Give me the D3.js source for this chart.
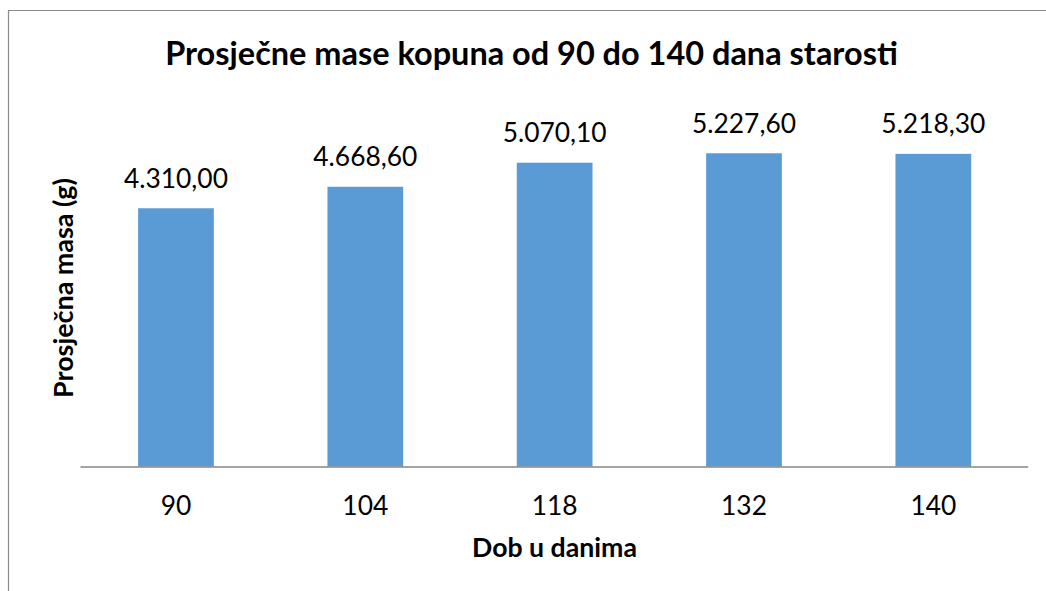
<!DOCTYPE html>
<html>
<head>
<meta charset="utf-8">
<title>Prosječne mase kopuna</title>
<script src="https://d3js.org/d3.v7.min.js"></script>
<style>
body { margin: 0; background: #fff; }
text { font-family: Lato, "Noto Sans", sans-serif; fill: #000; }
</style>
</head>
<body>
<div class="chart"></div>
<script>
// data
var days = ["90", "104", "118", "132", "140"];
var mass = [4310.00, 4668.60, 5070.10, 5227.60, 5218.30];
var yMax = 6000;

var titleText = "Prosječne mase kopuna od 90 do 140 dana starosti";
var xTitle = "Dob u danima";
var yTitle = "Prosječna masa (g)";

var W = 1046, H = 591;
var margin = {top: 107, right: 18, bottom: 124.5, left: 81.3};
var width = W - margin.left - margin.right,
    height = H - margin.top - margin.bottom;

var svg = d3.select(".chart").append("svg")
    .attr("width", W)
    .attr("height", H);

// chart frame (cropped at right and bottom)
svg.append("path")
    .attr("d", "M8.5," + H + "V10.5H" + W)
    .attr("fill", "none")
    .attr("stroke", "#8c8c8c")
    .attr("stroke-width", 1.2);

var g = svg.append("g")
    .attr("transform", "translate(" + margin.left + "," + margin.top + ")");

var x = d3.scaleBand()
    .domain(days)
    .range([0, width])
    .paddingInner(0.6)
    .paddingOuter(0.3);

var y = d3.scaleLinear()
    .domain([0, yMax])
    .range([height, 0]);

// fit a text element to a width by scaling its font size
function fit(sel, w) {
  var cur = sel.node().getComputedTextLength();
  var fs = parseFloat(sel.style("font-size"));
  sel.style("font-size", (fs * w / cur) + "px");
}

g.selectAll(".bar")
    .data(mass)
  .enter().append("rect")
    .attr("class", "bar")
    .attr("x", function(d, i) { return x(days[i]); })
    .attr("y", function(d) { return y(d); })
    .attr("width", x.bandwidth())
    .attr("height", function(d) { return height - y(d); })
    .attr("fill", "#5b9bd5");

var fmt = d3.formatLocale({decimal: ",", thousands: ".", grouping: [3], currency: ["", ""]}).format(",.2f");

var labels = g.selectAll(".lbl")
    .data(mass)
  .enter().append("text")
    .attr("class", "lbl")
    .attr("x", function(d, i) { return x(days[i]) + x.bandwidth() / 2; })
    .attr("y", function(d) { return y(d) - 20.5; })
    .attr("text-anchor", "middle")
    .style("font-size", "27px")
    .text(function(d) { return fmt(d); });
var l0 = labels.filter(function(d, i) { return i === 0; });
var lfs = parseFloat(l0.style("font-size")) * 104 / l0.node().getComputedTextLength();
labels.style("font-size", lfs + "px");

// x axis
var xAxis = g.append("g")
    .attr("transform", "translate(0," + height + ")")
    .call(d3.axisBottom(x).tickSize(0).tickPadding(0));
xAxis.select(".domain")
    .attr("stroke", "#868686")
    .attr("stroke-width", 1.3)
    .attr("d", "M-0.8,0.5H" + (width + 0.2));
xAxis.selectAll(".tick text")
    .attr("dy", 0)
    .attr("y", 515 - margin.top - height)
    .style("font-family", "Lato, 'Noto Sans', sans-serif")
    .style("font-size", lfs + "px")
    .attr("fill", "#000");

var t = svg.append("text")
    .attr("x", 531.5)
    .attr("y", 65)
    .attr("text-anchor", "middle")
    .style("font-weight", "bold")
    .style("font-size", "30px")
    .text(titleText);
fit(t, 733);

var xt = svg.append("text")
    .attr("x", 554.5)
    .attr("y", 557)
    .attr("text-anchor", "middle")
    .style("font-weight", "bold")
    .style("font-size", "24px")
    .text(xTitle);
fit(xt, 165);

var yt = svg.append("text")
    .attr("transform", "translate(73,288) rotate(-90)")
    .attr("text-anchor", "middle")
    .style("font-weight", "bold")
    .style("font-size", "24px")
    .text(yTitle);
fit(yt, 220);
</script>
</body>
</html>
